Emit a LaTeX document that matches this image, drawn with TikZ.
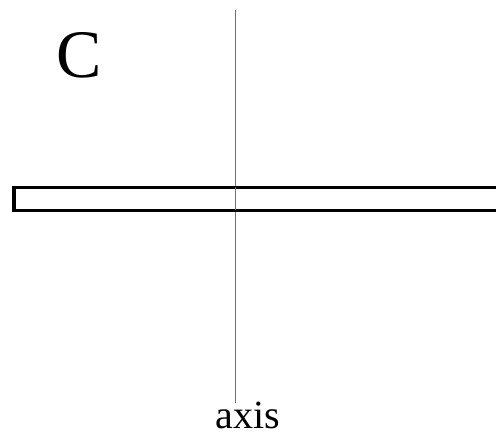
\documentclass[tikz,border=0pt]{standalone}
\usepackage{fontspec}
\setmainfont{Liberation Serif}
\begin{document}
\begin{tikzpicture}[x=1pt,y=-1pt,
  axisline/.style={draw=black!55,line width=1pt},
  bar/.style={draw=black,line width=3.6pt,fill=white},
  label/.style={inner sep=0pt,anchor=base}]
\clip (0,0) rectangle (496,433);
\fill[white] (0,0) rectangle (496,433);
\coordinate (top) at (235,10);
\coordinate (bot) at (235,403);
\draw[axisline] (top) -- (bot);
\draw[bar] (14,187.5) rectangle (520,210.5);
\draw[axisline] (235,187.5) -- (235,210.5);
\node[label,font=\fontsize{68}{70}\selectfont] (c) at (79,78) {C};
\node[label,font=\fontsize{40}{42}\selectfont] (ax) at (247.5,428.5) {axis};
\end{tikzpicture}
\end{document}
